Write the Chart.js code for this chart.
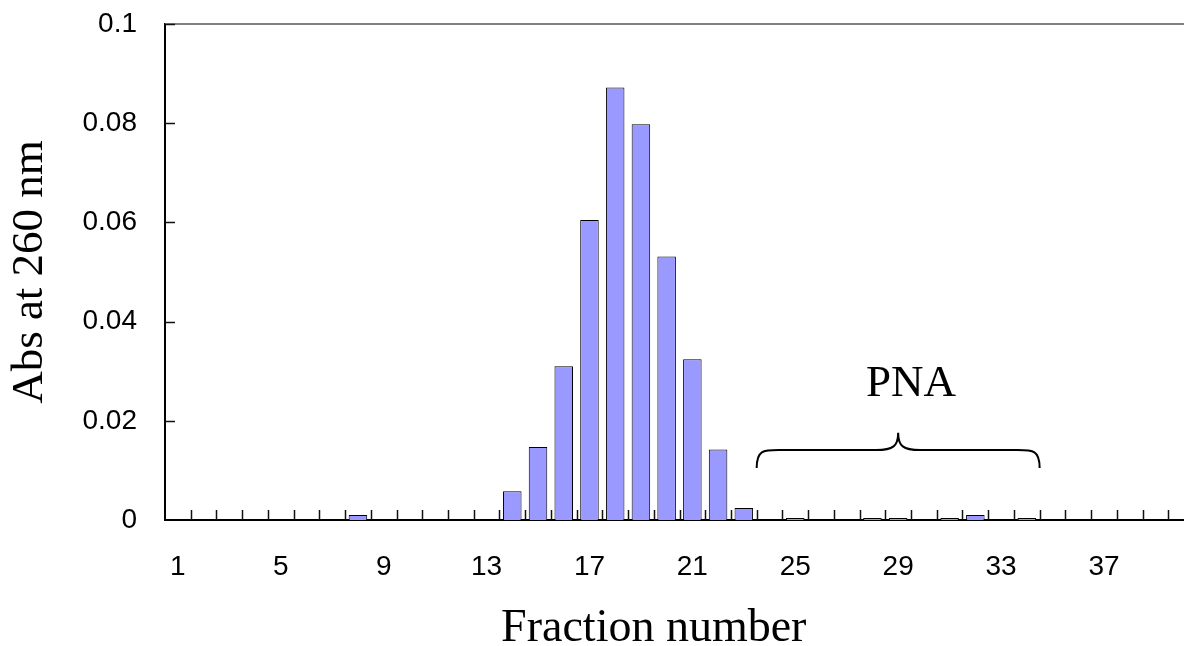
<!DOCTYPE html>
<html>
<head>
<meta charset="utf-8">
<script src="https://cdn.jsdelivr.net/npm/chart.js@4"></script>
<style>
    html, body { margin: 0; padding: 0; background: #fff; overflow: hidden; }
    #wrap { width: 1194px; height: 646px; }
</style>
</head>
<body>
<div id="wrap"><canvas id="absChart" width="1194" height="646"></canvas></div>
<script>
// Fraction numbers and absorbance readings
const fractions = [
    1, 2, 3, 4, 5, 6, 7, 8, 9, 10,
    11, 12, 13, 14, 15, 16, 17, 18, 19, 20,
    21, 22, 23, 24, 25, 26, 27, 28, 29, 30,
    31, 32, 33, 34, 35, 36, 37, 38, 39, 40
];
const absorbance = [
    0, 0, 0, 0, 0, 0, 0, 0.001, 0, 0,
    0, 0, 0, 0.0058, 0.0147, 0.031, 0.0605, 0.0872, 0.0798, 0.0531,
    0.0324, 0.0142, 0.0024, 0, 0.0004, 0, 0, 0.0004, 0.0004, 0,
    0.0004, 0.001, 0, 0.0004, 0, 0, 0, 0, 0, 0
];
const yTickLabels = ['0', '0.02', '0.04', '0.06', '0.08', '0.1'];

// PNA bracket spans fractions 24..34
const pnaFrom = 24;
const pnaTo = 34;

const sansFont = '"Liberation Sans", Arial, sans-serif';
const serifFont = '"Liberation Serif", "Times New Roman", serif';

// boundary pixel between category i-1 and i
function boundaryPx(xs, i) {
    const w = xs.getPixelForValue(1) - xs.getPixelForValue(0);
    return xs.getPixelForValue(i) - w / 2;
}

const frameAndNotes = {
    id: 'frameAndNotes',
    afterDatasetsDraw(chart) {
        const ctx = chart.ctx;
        const xs = chart.scales.x;
        const ys = chart.scales.y;
        const area = chart.chartArea;
        ctx.save();

        // grey top border
        ctx.strokeStyle = '#808080';
        ctx.lineWidth = 2;
        ctx.beginPath();
        ctx.moveTo(area.left, area.top);
        ctx.lineTo(chart.width, area.top);
        ctx.stroke();

        // inner tick marks
        ctx.strokeStyle = '#111';
        ctx.lineWidth = 1.5;
        ctx.beginPath();
        for (let i = 1; i <= fractions.length; i++) {
            const x = Math.round(boundaryPx(xs, i)) + 0.5;
            ctx.moveTo(x, area.bottom);
            ctx.lineTo(x, area.bottom - 10);
        }
        for (let i = 1; i < yTickLabels.length; i++) {
            const y = Math.round(ys.getPixelForValue(i * 0.02)) + 0.5;
            ctx.moveTo(area.left, y);
            ctx.lineTo(area.left + 10, y);
        }
        ctx.stroke();

        // curly bracket over the PNA fractions
        const x0 = boundaryPx(xs, pnaFrom - 1);
        const x1 = boundaryPx(xs, pnaTo);
        const xm = (x0 + x1) / 2;
        const yEnd = ys.getPixelForValue(0.0105);
        const yBar = ys.getPixelForValue(0.0141);
        const yTip = ys.getPixelForValue(0.0176);
        const r = 22;
        ctx.strokeStyle = '#000';
        ctx.lineWidth = 2;
        ctx.beginPath();
        ctx.moveTo(x0, yEnd);
        ctx.bezierCurveTo(x0, yBar, x0 + r * 0.3, yBar, x0 + r, yBar);
        ctx.lineTo(xm - r, yBar);
        ctx.bezierCurveTo(xm - 5, yBar, xm, yBar - 4, xm, yTip);
        ctx.bezierCurveTo(xm, yBar - 4, xm + 5, yBar, xm + r, yBar);
        ctx.lineTo(x1 - r, yBar);
        ctx.bezierCurveTo(x1 - r * 0.3, yBar, x1, yBar, x1, yEnd);
        ctx.stroke();

        ctx.fillStyle = '#000';
        ctx.textAlign = 'center';
        ctx.textBaseline = 'alphabetic';
        ctx.font = '45px ' + serifFont;
        ctx.fillText('PNA', boundaryPx(xs, 29), ys.getPixelForValue(0.025));

        // x axis title, centred under fractions 1..38
        ctx.font = '46px ' + serifFont;
        ctx.fillText('Fraction number', (area.left + boundaryPx(xs, 38)) / 2, chart.height - 5);
        ctx.restore();
    }
};

const chartCtx = document.getElementById('absChart').getContext('2d');
const absChart = new Chart(chartCtx, {
    type: 'bar',
    data: {
        labels: fractions,
        datasets: [{
            data: absorbance,
            backgroundColor: '#9999ff',
            borderColor: '#000',
            borderWidth: 1,
            categoryPercentage: 1,
            barPercentage: 0.72
        }]
    },
    options: {
        responsive: false,
        animation: false,
        devicePixelRatio: 1,
        layout: { padding: { top: 24, right: 0, bottom: 0, left: 0 } },
        plugins: {
            legend: { display: false },
            tooltip: { enabled: false }
        },
        scales: {
            x: {
                grid: { display: false, drawTicks: false },
                border: { display: true, color: '#000', width: 2 },
                ticks: {
                    autoSkip: false,
                    maxRotation: 0,
                    padding: 30,
                    color: '#000',
                    font: { family: sansFont, size: 28 },
                    callback: function(value, index) {
                        return index % 4 === 0 ? String(fractions[index]) : '';
                    }
                },
                afterFit: function(scale) {
                    scale.height = 126;
                    scale.paddingLeft = 0;
                    scale.paddingRight = 0;
                }
            },
            y: {
                min: 0,
                max: 0.1,
                grid: { display: false, drawTicks: false },
                border: { display: true, color: '#000', width: 2 },
                ticks: {
                    stepSize: 0.02,
                    padding: 28,
                    color: '#000',
                    font: { family: sansFont, size: 28 },
                    callback: function(value, index) { return yTickLabels[index]; }
                },
                title: {
                    display: true,
                    text: 'Abs at 260 nm',
                    color: '#000',
                    font: { family: serifFont, size: 45 },
                    padding: { top: 3, bottom: 0 }
                },
                afterFit: function(scale) {
                    scale.width = 165;
                    scale.paddingTop = 0;
                    scale.paddingBottom = 0;
                }
            }
        }
    },
    plugins: [frameAndNotes]
});
</script>
</body>
</html>
